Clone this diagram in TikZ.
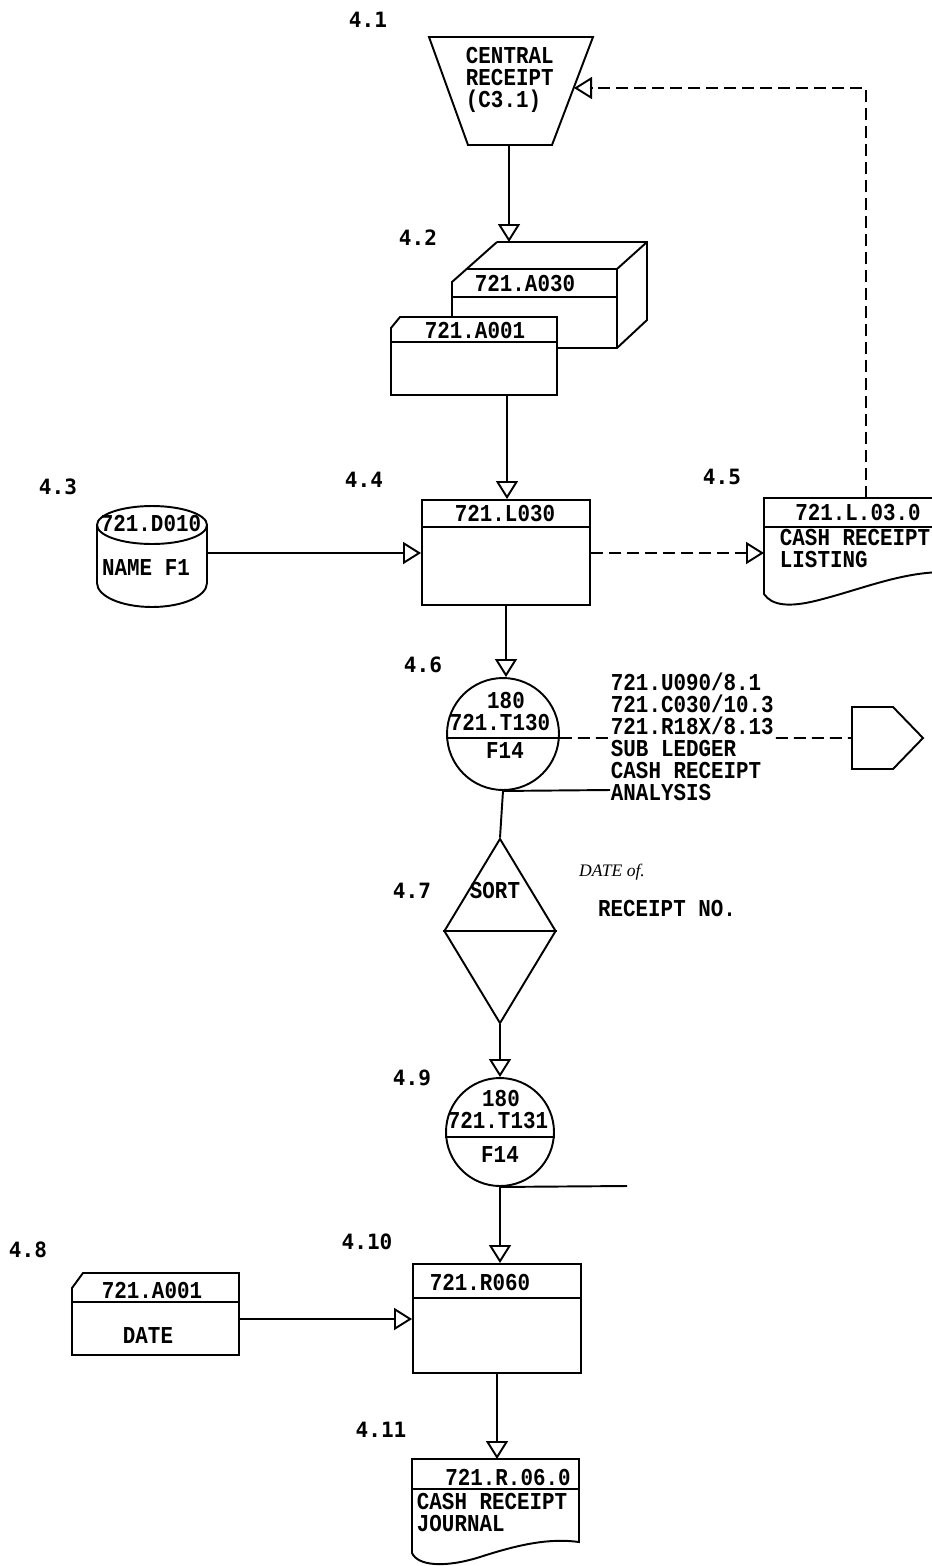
\documentclass[tikz,border=0pt]{standalone}
\usepackage{fontspec}
\setmainfont{Liberation Mono}[FakeStretch=0.86]
\newfontfamily\lblfont{DejaVu Sans Mono}
\newfontfamily\handfont{Liberation Serif}
\usetikzlibrary{arrows.meta,shapes.geometric}

\tikzset{
  flow/.style={-{Triangle[open,length=0.36cm,width=0.44cm]}},
  dashflow/.style={flow,dash pattern=on 0.24cm off 0.12cm},
  proc/.style 2 args={draw,minimum width=#1,minimum height=#2,inner sep=0pt},
  tapedisk/.style={draw,circle,minimum size=#1,inner sep=0pt},
  txt/.style={inner sep=0pt,font=\bfseries\fontsize{13.8}{12.5}\selectfont},
  lbl/.style={inner sep=0pt,font=\lblfont\bfseries\fontsize{12}{14}\selectfont},
}

\begin{document}
\begin{tikzpicture}[x=0.02cm,y=-0.02cm,line width=1.1pt]
\useasboundingbox (0,0) rectangle (932,1566);

% 4.1 central receipt
\draw (429,37) -- (593,37) -- (552,145) -- (468,145) -- cycle;
\coordinate (rcptS) at (509,145);
\coordinate (rcptE) at (574,88);
\node[txt,align=left,anchor=west] (rcpt) at (465,80) {CENTRAL\\RECEIPT\\(C3.1)};

% 4.2 cards
\draw (497,242) -- (647,242) -- (647,320) -- (617,348) -- (557,348);
\draw (497,242) -- (452,282) -- (452,317);
\draw (467,269) -- (617,269) -- (647,242);
\draw (617,269) -- (617,348);
\draw (452,297) -- (617,297);
\draw[fill=white] (391,328) -- (400,317) -- (557,317) -- (557,395) -- (391,395) -- cycle;
\draw (391,342) -- (557,342);
\coordinate (cardsN) at (509,242);
\coordinate (cardsS) at (507,395);
\node[txt] (a030) at (525,284) {721.A030};
\node[txt] (a001) at (475,330) {721.A001};

% 4.3 name file
\draw (152,525) ellipse [x radius=1.1cm,y radius=0.38cm];
\draw (97,525) -- (97,583) arc[start angle=180,end angle=360,x radius=1.1cm,y radius=0.48cm] -- (207,525);
\coordinate (dbE) at (207,553);
\node[txt] (d010) at (151,523) {721.D010};
\node[txt] (namef) at (146,568) {NAME F1};

% 4.4
\node[proc={3.36cm}{2.1cm}] (l030) at (506,552.5) {};
\draw ([yshift=-0.56cm]l030.north west) -- ([yshift=-0.56cm]l030.north east);
\node[txt] (l030t) at (505,514) {721.L030};

% 4.5 listing
\draw (945,498) -- (764,498) -- (764,594) .. controls (772,606) and (790,607) .. (815,601) .. controls (860,590) and (900,572) .. (945,572);
\draw (764,527) -- (945,527);
\coordinate (lstN) at (866,498);
\coordinate (lstW) at (764,553);
\node[txt] (l030n) at (858,513) {721.L.03.0};
\node[txt,align=left,anchor=west] (lstt) at (779,548.5) {CASH RECEIPT\\LISTING};

% 4.6 tape
\node[tapedisk=2.24cm] (t130) at (503,734) {};
\draw ([yshift=-0.08cm]t130.west) -- ([yshift=-0.08cm]t130.east);
\node[txt] (n180a) at (506,700) {180};
\node[txt] (t130t) at (500,723) {721.T130};
\node[txt] (f14a) at (505,751) {F14};
\draw (852,707) -- (893,707) -- (923,738) -- (893,769) -- (852,769) -- cycle;
\coordinate (offW) at (852,738);
\draw[dash pattern=on 0.24cm off 0.12cm] ([yshift=-0.08cm]t130.east) -- (offW);
\node[txt,align=left,anchor=west,fill=white] (dist) at (610,737) {721.U090/8.1\\721.C030/10.3\\721.R18X/8.13\\SUB LEDGER\\CASH RECEIPT\\ANALYSIS};
\coordinate (t130tl) at (610,790);
\draw (t130.south) -- (t130tl);

% 4.7 sort
\node[draw,diamond,minimum width=2.24cm,minimum height=3.7cm,inner sep=0pt] (sortd) at (500,931) {};
\draw (sortd.west) -- (sortd.east);
\node[txt] (sortt) at (495,890) {SORT};
\node[txt] (rcptno) at (667,908) {RECEIPT NO.};
\node[inner sep=0pt,font=\handfont\itshape\fontsize{10}{12}\selectfont] (hand) at (612,872) {DATE of.};

% 4.9 tape
\node[tapedisk=2.16cm] (t131) at (500,1132) {};
\draw ([yshift=-0.1cm]t131.west) -- ([yshift=-0.1cm]t131.east);
\node[txt] (n180b) at (501,1098) {180};
\node[txt] (t131t) at (498,1121) {721.T131};
\node[txt] (f14b) at (500,1154) {F14};
\coordinate (t131tl) at (627,1186);
\draw (t131.south) -- (t131tl);

% 4.8 date card
\draw (72,1288) -- (83,1273) -- (239,1273) -- (239,1355) -- (72,1355) -- cycle;
\draw (72,1302) -- (239,1302);
\coordinate (datE) at (240,1319);
\node[txt] (a001b) at (152,1290) {721.A001};
\node[txt] (datet) at (148,1335) {DATE};

% 4.10
\node[proc={3.36cm}{2.18cm}] (r060) at (497,1318.5) {};
\draw ([yshift=-0.7cm]r060.north west) -- ([yshift=-0.7cm]r060.north east);
\node[txt] (r060t) at (480,1282) {721.R060};

% 4.11 journal
\draw (579,1459) -- (412,1459) -- (412,1553) .. controls (418,1566) and (445,1568) .. (480,1557) .. controls (520,1544) and (550,1538) .. (579,1542) -- cycle;
\draw (412,1489) -- (579,1489);
\coordinate (jrnN) at (497,1459);
\node[txt] (r060n) at (508,1477) {721.R.06.0};
\node[txt,align=left,anchor=west] (jrnt) at (416,1512.5) {CASH RECEIPT\\JOURNAL};

% flow lines
\draw[flow] (rcptS) -- (cardsN);
\draw[flow] (cardsS) -- (cardsS |- l030.north);
\draw[flow] (dbE) -- (dbE -| l030.west);
\draw[dashflow] (l030.east |- lstW) -- (lstW);
\draw[dashflow] (lstN) |- (rcptE);
\draw[flow] (l030.south) -- (l030.south |- t130.north);
\draw (t130.south) -- (sortd.north);
\draw[flow] (sortd.south) -- (t131.north);
\draw[flow] (t131.south) -- (t131.south |- r060.north);
\draw[flow] (datE) -- (datE -| r060.west);
\draw[flow] (r060.south) -- (jrnN);

% step numbers
\node[lbl] (s41) at (368,20) {4.1};
\node[lbl] (s42) at (418,238) {4.2};
\node[lbl] (s43) at (58,487) {4.3};
\node[lbl] (s44) at (364,480) {4.4};
\node[lbl] (s45) at (722,477) {4.5};
\node[lbl] (s46) at (423,665) {4.6};
\node[lbl] (s47) at (412,891) {4.7};
\node[lbl] (s49) at (412,1078) {4.9};
\node[lbl] (s48) at (28,1250) {4.8};
\node[lbl] (s410) at (367,1242) {4.10};
\node[lbl] (s411) at (381,1430) {4.11};
\end{tikzpicture}
\end{document}
